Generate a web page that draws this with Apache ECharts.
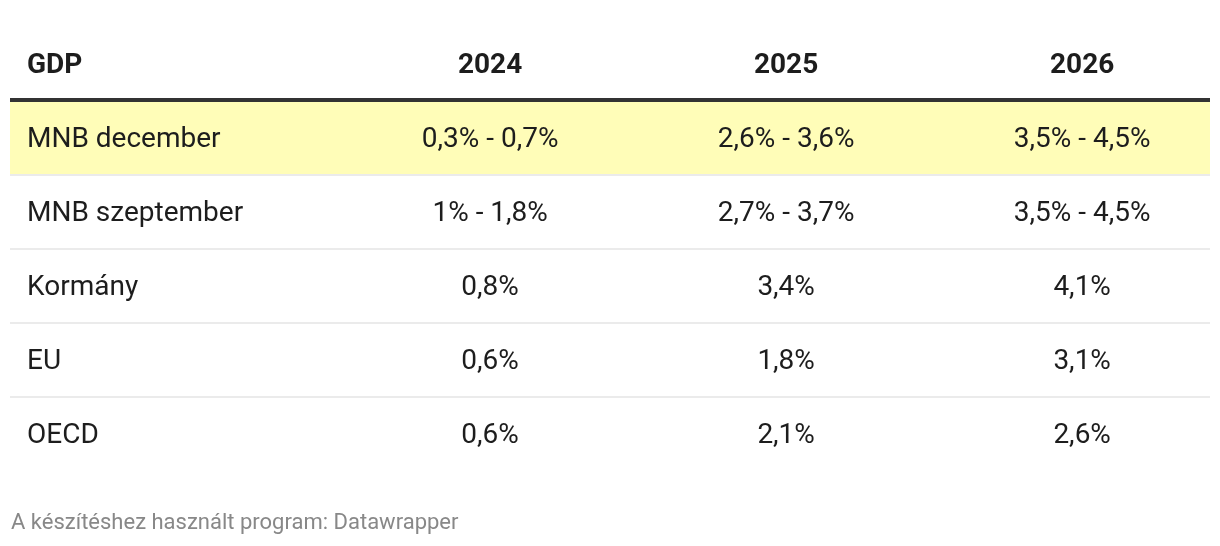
<!DOCTYPE html>
<html>
<head>
<meta charset="utf-8">
<script src="https://cdn.jsdelivr.net/npm/echarts@6/dist/echarts.min.js"></script>
<style>
html,body{margin:0;padding:0;background:#fff;}
#chart{width:1220px;height:546px;}
</style>
</head>
<body>
<div id="chart"></div>
<script>
const headerLabel = 'GDP';
const years = ['2024', '2025', '2026'];
const rowLabels = ['MNB december', 'MNB szeptember', 'Kormány', 'EU', 'OECD'];
const values2024 = ['0,3% - 0,7%', '1% - 1,8%', '0,8%', '0,6%', '0,6%'];
const values2025 = ['2,6% - 3,6%', '2,7% - 3,7%', '3,4%', '1,8%', '2,1%'];
const values2026 = ['3,5% - 4,5%', '3,5% - 4,5%', '4,1%', '3,1%', '2,6%'];
const highlightedRows = ['MNB december'];
const footerText = 'A készítéshez használt program: Datawrapper';

const yCategories = [headerLabel].concat(rowLabels);
const yearValues = [values2024, values2025, values2026];

// cells: [columnIndex, rowCategory, text, isHeader]
const cells = [];
cells.push([0, headerLabel, headerLabel, 1]);
years.forEach((y, i) => cells.push([i + 1, headerLabel, y, 1]));
rowLabels.forEach((r, ri) => {
  cells.push([0, r, r, 0]);
  yearValues.forEach((vals, ci) => cells.push([ci + 1, r, vals[ri], 0]));
});
const rowData = rowLabels.map((r, i) => [0, r, highlightedRows.includes(r) ? 1 : 0, i === rowLabels.length - 1 ? 1 : 0]);

const FONT = 'Roboto, "Noto Sans", sans-serif';
const chart = echarts.init(document.getElementById('chart'), null, {renderer: 'canvas'});
chart.setOption({
  animation: false,
  backgroundColor: '#ffffff',
  title: {
    text: footerText,
    left: 6,
    top: 507,
    textStyle: {fontFamily: FONT, fontSize: 22, fontWeight: 'normal', color: '#888888'}
  },
  grid: {left: 10, right: 10, top: 27, height: 444},
  xAxis: {type: 'value', min: -0.622, max: 3.432, show: false},
  yAxis: {type: 'category', data: yCategories, inverse: true, show: false},
  series: [
    {
      type: 'custom',
      z: 1,
      data: rowData,
      renderItem: function (params, api) {
        const cs = params.coordSys;
        const c = api.coord([0, api.value(1)]);
        const bandH = api.size([0, 1])[1];
        const top = c[1] - bandH / 2;
        const bottom = c[1] + bandH / 2;
        const children = [];
        if (api.value(2) === 1) {
          children.push({type: 'rect', shape: {x: cs.x, y: top + 1, width: cs.width, height: bandH - 2}, style: {fill: '#fffdb8'}});
        }
        if (params.dataIndex === 0) {
          children.push({type: 'rect', shape: {x: cs.x, y: top - 3, width: cs.width, height: 4}, style: {fill: '#333333'}});
        }
        if (api.value(3) !== 1) {
          children.push({type: 'rect', shape: {x: cs.x, y: bottom - 1, width: cs.width, height: 2}, style: {fill: '#ebebeb'}});
        }
        return {type: 'group', children: children};
      }
    },
    {
      type: 'custom',
      z: 2,
      data: cells,
      renderItem: function (params, api) {
        const cs = params.coordSys;
        const col = api.value(0);
        const c = api.coord([col, api.value(1)]);
        const item = cells[params.dataIndex];
        const isHeader = item[3] === 1;
        const x = col === 0 ? cs.x + 17 : c[0];
        return {
          type: 'text',
          x: x,
          y: c[1] + 2,
          style: {
            text: item[2],
            fontFamily: FONT,
            fontSize: 28,
            fontWeight: isHeader ? 'bold' : 'normal',
            fill: '#1d1d1d',
            align: col === 0 ? 'left' : 'center',
            verticalAlign: 'middle'
          }
        };
      }
    }
  ]
});
</script>
</body>
</html>
